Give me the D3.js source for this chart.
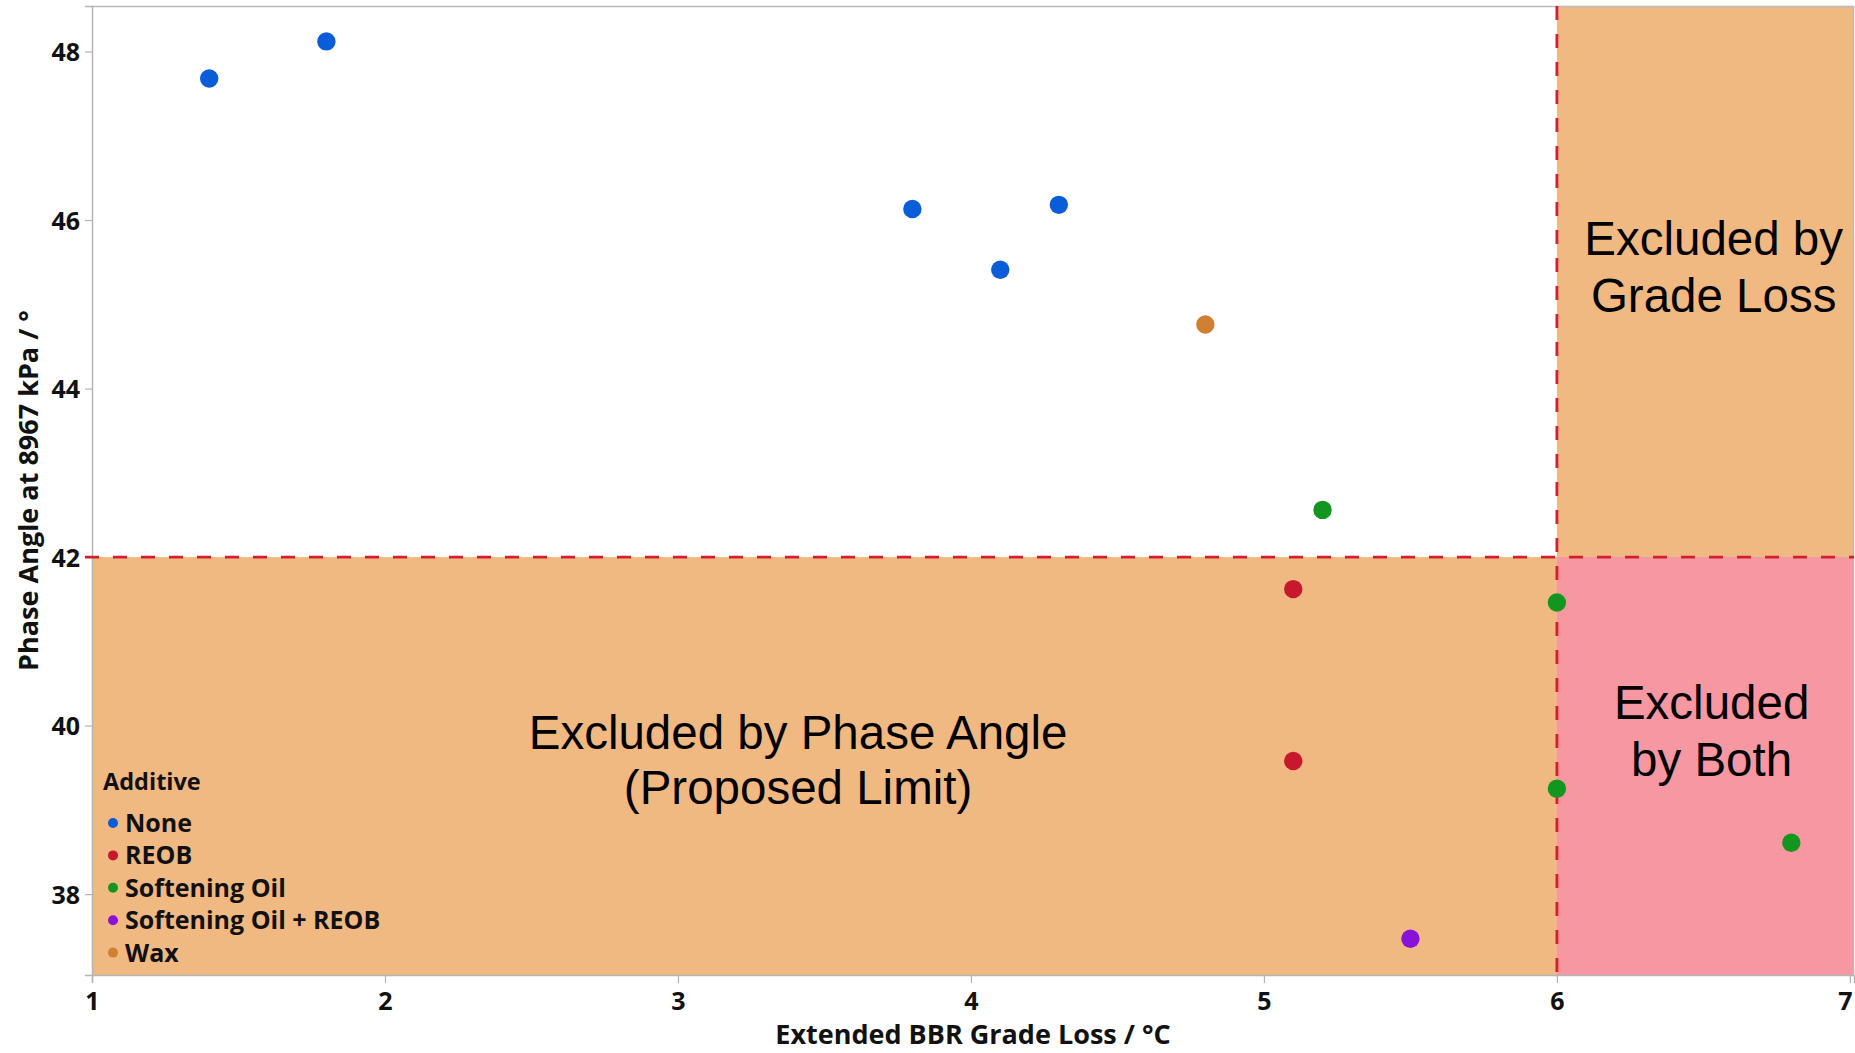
<!DOCTYPE html>
<html>
<head>
<meta charset="utf-8">
<script src="https://cdn.jsdelivr.net/npm/d3@7"></script>
<style>
  html, body { margin: 0; padding: 0; background: #fff; }
  svg { display: block; }
  .tick text { font-family: "Open Sans", "Noto Sans", sans-serif; font-weight: 700; font-size: 25px; fill: #111; }
</style>
</head>
<body>
<svg id="chart" width="1855" height="1053"></svg>
<script>
// Additive categories and their marker colours
const additives = ["None", "REOB", "Softening Oil", "Softening Oil + REOB", "Wax"];
const additiveColors = ["#0b5cd8", "#c8182d", "#13961f", "#8a12d8", "#d17f33"];

// Measured samples: BBR grade loss (°C), phase angle (°), additive
const gradeLoss  = [1.4, 1.8, 3.8, 4.1, 4.3, 4.8, 5.2, 5.1, 5.1, 6.0, 6.0, 6.8, 5.5];
const phaseAngle = [47.68, 48.12, 46.13, 45.41, 46.18, 44.76, 42.56, 41.62, 39.58, 41.46, 39.25, 38.61, 37.47];
const additive   = ["None", "None", "None", "None", "None", "Wax", "Softening Oil", "REOB", "REOB",
                    "Softening Oil", "Softening Oil", "Softening Oil", "Softening Oil + REOB"];

// Axis ticks and limits
const xTicks = [1, 2, 3, 4, 5, 6, 7];
const yTicks = [38, 40, 42, 44, 46, 48];
const gradeLossLimit = 6;
const phaseAngleLimit = 42;

const svg = d3.select("#chart");
const W = 1855, H = 1053;
const margin = { left: 92, top: 6, right: 1, bottom: 78 };
const x0 = margin.left, x1 = W - margin.right, y0 = margin.top, y1 = H - margin.bottom;

const x = d3.scaleLinear().domain([1, 7.014]).range([x0, x1]);
const y = d3.scaleLinear().domain([37.04, 48.54]).range([y1, y0]);
const color = d3.scaleOrdinal().domain(additives).range(additiveColors);

const xMin = x.domain()[0], xMax = x.domain()[1];
const yMin = y.domain()[0], yMax = y.domain()[1];

// Exclusion zones
const orange = "#f0b982", pink = "#f797a1";
const zones = [
  { x: [xMin, xMax], y: [yMin, phaseAngleLimit], fill: orange },
  { x: [gradeLossLimit, xMax], y: [phaseAngleLimit, yMax], fill: orange },
  { x: [gradeLossLimit, xMax], y: [yMin, phaseAngleLimit], fill: pink }
];
svg.append("g").selectAll("rect").data(zones).join("rect")
  .attr("x", d => x(d.x[0]))
  .attr("y", d => y(d.y[1]))
  .attr("width", d => x(d.x[1]) - x(d.x[0]))
  .attr("height", d => y(d.y[0]) - y(d.y[1]))
  .attr("fill", d => d.fill);

// Frame (top and right)
svg.append("path")
  .attr("d", `M${x0},${y0 + 0.5}H${x1 - 0.5}V${y1}`)
  .attr("fill", "none").attr("stroke", "#b9b9b9").attr("stroke-width", 1.5);

// Axes
const xAxis = svg.append("g").attr("transform", `translate(0,${y1})`)
  .call(d3.axisBottom(x).tickValues(xTicks).tickFormat(d3.format("d")).tickSizeOuter(0).tickSize(8).tickPadding(9));
const yAxis = svg.append("g").attr("transform", `translate(${x0},0)`)
  .call(d3.axisLeft(y).tickValues(yTicks).tickFormat(d3.format("d")).tickSizeOuter(0).tickSize(7).tickPadding(5));
[xAxis, yAxis].forEach(g => {
  g.select(".domain").attr("stroke", "#b4b4b4").attr("stroke-width", 1.5);
  g.selectAll(".tick line").attr("stroke", "#b4b4b4").attr("stroke-width", 1.2);
});
yAxis.selectAll(".tick text").attr("dy", "0.36em");
// keep the last x label inside the canvas edge
xAxis.selectAll(".tick text").filter(d => d === xTicks[xTicks.length - 1]).attr("dx", -5);

// Limit lines
const dash = { stroke: "#d2202f", width: 2.8, array: "14,14" };
svg.append("line")
  .attr("x1", x0 - 7).attr("x2", x1).attr("y1", y(phaseAngleLimit)).attr("y2", y(phaseAngleLimit))
  .attr("stroke", dash.stroke).attr("stroke-width", dash.width).attr("stroke-dasharray", dash.array);
svg.append("line")
  .attr("x1", x(gradeLossLimit)).attr("x2", x(gradeLossLimit)).attr("y1", y0).attr("y2", y1 + 8)
  .attr("stroke", dash.stroke).attr("stroke-width", dash.width).attr("stroke-dasharray", dash.array);

// Zone labels
const zoneFont = "'Liberation Sans', Arial, sans-serif";
const zoneLabels = [
  { lines: ["Excluded by Phase Angle", "(Proposed Limit)"], cx: 3.41, top: 749, gap: 55 },
  { lines: ["Excluded by", "Grade Loss"], cx: 6.535, top: 255, gap: 57 },
  { lines: ["Excluded", "by Both"], cx: 6.528, top: 719, gap: 57 }
];
zoneLabels.forEach(z => {
  const t = svg.append("text").attr("text-anchor", "middle")
    .attr("font-family", zoneFont).attr("font-size", 47.5).attr("fill", "#000");
  z.lines.forEach((line, i) => t.append("tspan").attr("x", x(z.cx)).attr("y", z.top + i * z.gap).text(line));
});

// Data points
const points = gradeLoss.map((g, i) => ({ g, p: phaseAngle[i], a: additive[i] }));
svg.append("g").selectAll("circle").data(points).join("circle")
  .attr("cx", d => x(d.g)).attr("cy", d => y(d.p)).attr("r", 9.2)
  .attr("fill", d => color(d.a));

// Axis titles
const titleFont = "'Open Sans', 'Noto Sans', sans-serif";
svg.append("text")
  .attr("x", (x0 + x1) / 2).attr("y", 1044).attr("text-anchor", "middle")
  .attr("font-family", titleFont).attr("font-weight", 700).attr("font-size", 27).attr("fill", "#111")
  .text("Extended BBR Grade Loss / °C");
svg.append("text")
  .attr("transform", `translate(38,${(y0 + y1) / 2}) rotate(-90)`).attr("text-anchor", "middle")
  .attr("font-family", titleFont).attr("font-weight", 700).attr("font-size", 27).attr("fill", "#111")
  .text("Phase Angle at 8967 kPa / °");

// Legend
const legend = svg.append("g").attr("transform", "translate(103,790)");
legend.append("text").attr("x", 0).attr("y", 0)
  .attr("font-family", titleFont).attr("font-weight", 700).attr("font-size", 23.5).attr("fill", "#111")
  .text("Additive");
const items = legend.selectAll("g.item").data(additives).join("g")
  .attr("class", "item").attr("transform", (d, i) => `translate(0,${33 + i * 32.4})`);
items.append("circle").attr("cx", 10).attr("cy", 0).attr("r", 5).attr("fill", d => color(d));
items.append("text").attr("x", 22).attr("y", 0).attr("dy", "0.36em")
  .attr("font-family", titleFont).attr("font-weight", 700).attr("font-size", 25).attr("fill", "#111")
  .text(d => d);
</script>
</body>
</html>
